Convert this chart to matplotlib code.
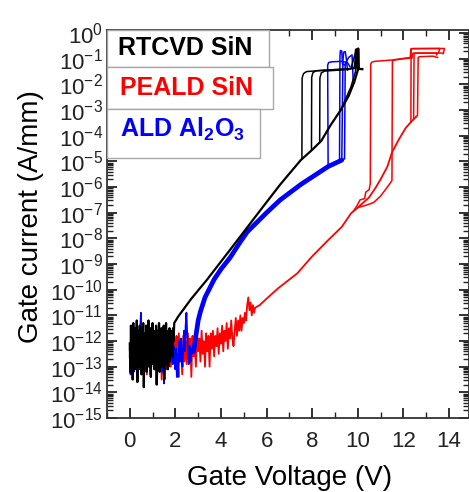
import numpy as np
import matplotlib
matplotlib.use('Agg')
import matplotlib.pyplot as plt
from matplotlib.ticker import LogLocator, MultipleLocator, LogFormatterMathtext, NullFormatter
from matplotlib.patches import Rectangle

plt.rcParams['font.family'] = ['Liberation Sans', 'DejaVu Sans']
plt.rcParams['mathtext.fontset'] = 'custom'
plt.rcParams['mathtext.rm'] = 'Liberation Sans'
plt.rcParams['mathtext.it'] = 'Liberation Sans:italic'
plt.rcParams['mathtext.bf'] = 'Liberation Sans:bold'
plt.rcParams['axes.unicode_minus'] = False

# ---------------- data (log10 of gate current in A/mm vs gate voltage in V) ----------------
legend_labels = ['RTCVD SiN', 'PEALD SiN', r'ALD Al$_\mathbf{2}$O$_\mathbf{3}$']
x_tick_values = [0, 2, 4, 6, 8, 10, 12, 14]

# RTCVD SiN (black)
black_noise_vmax = 1.95
black_noise_logi = [-12.1, -13.2, -11.4, -12.9, -11.8, -13.5, -11.3, -12.6, -12.0, -13.1,
                    -11.5, -12.8, -11.2, -13.6, -12.2, -11.6, -13.0, -11.4, -12.7, -11.9,
                    -13.3, -11.5, -12.4, -11.3, -13.8, -12.1, -11.7, -12.9, -11.4, -13.2,
                    -11.8, -12.5, -11.2, -13.0, -12.0, -11.5, -13.4, -11.7, -12.6, -11.3,
                    -12.9, -11.6, -13.1, -11.9, -12.3, -11.4, -13.7, -12.0, -11.6, -12.8,
                    -11.3, -13.2, -11.8, -12.5, -11.5, -13.0, -11.9, -12.2, -11.4, -13.5,
                    -11.7, -12.7, -11.3, -12.9, -11.8, -13.1, -11.6, -12.4, -11.5, -12.8,
                    -11.7, -12.3, -11.6, -12.6, -11.5, -12.0, -11.3]
black_ramp_v = [2.12, 2.7, 3.37, 4.5, 5.73, 6.6, 7.5, 8.0, 8.4, 8.8, 9.25, 9.6, 9.85, 10.0, 10.02, 10.05, 10.2]
black_ramp_logi = [-11.05, -10.35, -9.63, -8.33, -6.9, -5.9, -4.95, -4.55, -4.2, -3.6, -3.0, -2.45, -1.9, -1.45, -0.6, -1.4, -1.4]
black_bd1_v = [7.55, 7.56, 7.62, 7.75, 8.5, 9.3, 9.85, 9.9, 9.93, 10.0, 10.2]
black_bd1_logi = [-4.9, -1.75, -1.58, -1.5, -1.45, -1.42, -1.38, -1.0, -0.62, -1.35, -1.42]
black_bd2_v = [7.97, 7.98, 8.03, 8.15, 9.0, 9.7, 9.92, 9.95, 10.0]
black_bd2_logi = [-4.55, -1.72, -1.55, -1.47, -1.42, -1.38, -0.7, -1.3, -1.45]
black_bd3_v = [8.33, 8.34, 8.4, 8.55, 9.4, 9.88, 9.9, 9.95]
black_bd3_logi = [-4.25, -1.75, -1.55, -1.48, -1.43, -1.35, -0.65, -1.3]
black_bd4_v = [9.25, 9.45, 9.7, 9.9, 9.95, 10.0]
black_bd4_logi = [-3.0, -2.6, -2.1, -1.5, -0.62, -1.35]

# ALD Al2O3 (blue)
blue_noise_vmax = 2.8
blue_noise_logi = [-12.6, -13.3, -12.1, -12.9, -11.9, -13.2, -12.4, -12.8, -12.0, -13.0,
                   -12.5, -12.2, -13.1, -11.6, -10.9, -12.4, -12.9, -12.1, -13.2, -12.3,
                   -12.7, -11.9, -13.0, -12.2, -12.8, -12.0, -13.3, -12.4, -12.6, -11.8,
                   -12.9, -12.3, -13.1, -12.0, -12.7, -12.2, -13.0, -11.9, -12.5, -12.8,
                   -12.1, -13.2, -12.4, -13.65, -12.2, -12.9, -11.9, -12.6, -12.3, -13.0,
                   -12.0, -12.7, -12.4, -11.8, -12.9, -12.2, -12.6, -13.1, -12.3, -13.4,
                   -12.5, -13.4, -12.0, -12.8, -11.9, -12.6, -13.0, -12.2, -11.6, -12.4,
                   -11.4, -10.9, -11.8, -12.5, -12.9, -12.2, -12.8, -12.3, -12.5, -12.4,
                   -12.3]
blue_ramp_v = [2.8, 2.9, 3.0, 3.1, 3.3, 3.7, 4.0, 4.4, 4.8, 5.15, 6.0, 6.6, 7.5, 8.7, 9.3]
blue_ramp_logi = [-12.4, -11.8, -11.2, -10.85, -10.3, -9.6, -9.2, -8.75, -8.2, -7.75, -7.0, -6.5, -5.9, -5.2, -4.95]
blue_bd1_v = [8.7, 8.68, 8.72, 8.85, 9.3, 9.55, 9.65]
blue_bd1_logi = [-5.2, -1.25, -1.15, -1.12, -1.1, -1.15, -1.3]
blue_bd2_v = [9.2, 9.22, 9.24, 9.3, 9.33, 9.45]
blue_bd2_logi = [-5.0, -0.9, -0.68, -0.7, -1.2, -1.25]
blue_bd3_v = [9.3, 9.35, 9.38, 9.45, 9.5, 9.55]
blue_bd3_logi = [-4.95, -1.05, -0.75, -0.72, -1.0, -1.45]
blue_bd4_v = [9.3, 9.42, 9.45, 9.6, 9.75, 9.8]
blue_bd4_logi = [-4.95, -4.9, -1.2, -0.95, -0.85, -1.85]

# PEALD SiN (red)
red_noise_vmax = 5.5
red_noise_logi = [-12.3, -12.9, -12.0, -13.1, -12.4, -12.7, -11.9, -13.0, -12.2, -12.6,
                  -12.1, -13.2, -12.4, -12.8, -12.0, -13.3, -12.3, -12.7, -11.9, -12.9,
                  -12.2, -13.0, -12.5, -12.1, -13.4, -12.3, -12.8, -12.0, -13.5, -12.4,
                  -12.6, -11.9, -13.1, -12.2, -12.8, -11.8, -13.0, -12.3, -12.6, -11.9,
                  -12.5, -11.8, -13.1, -11.7, -12.7, -12.2, -13.3, -11.8, -12.8, -12.0,
                  -12.9, -11.7, -12.5, -11.9, -13.4, -11.8, -12.6, -12.0, -13.0, -11.7,
                  -12.4, -11.9, -12.8, -11.6, -12.5, -12.0, -13.0, -11.7, -12.4, -11.8,
                  -13.0, -11.7, -12.3, -11.6, -12.6, -11.8, -12.2, -11.5, -12.5, -11.7,
                  -12.1, -11.4, -12.4, -11.6, -12.0, -11.3, -12.3, -11.5, -11.9, -11.2,
                  -11.9, -12.2, -11.6, -11.1, -11.8, -11.2, -11.6, -11.0, -11.6, -11.1,
                  -11.3, -10.9, -11.2, -10.6, -10.3, -10.8, -10.5, -11.0, -10.6, -10.9,
                  -10.7]
red_ramp_v = [5.7, 6.0, 6.5, 7.0, 7.35, 8.0, 8.7, 9.3, 9.7, 10.0, 10.5, 10.8, 11.0, 11.3, 11.5, 11.8, 12.1, 12.35, 12.55]
red_ramp_logi = [-10.6, -10.35, -9.95, -9.6, -9.36, -8.7, -8.07, -7.55, -7.03, -6.8, -6.4, -6.0, -5.7, -5.2, -4.65, -4.15, -3.7, -3.45, -3.27]
red_bd1_v = [9.8, 9.95, 10.1, 10.3, 10.35, 10.5, 10.55, 10.57, 10.62, 10.75, 11.5, 12.3, 12.33, 12.4, 13.6, 13.55]
red_bd1_logi = [-6.95, -6.75, -6.5, -6.45, -6.2, -6.1, -5.85, -1.2, -1.13, -1.1, -1.05, -0.95, -0.62, -0.61, -0.6, -0.75]
red_bd2_v = [10.0, 10.4, 10.7, 11.0, 11.3, 11.5, 11.52, 11.6, 12.0, 12.38, 12.42, 13.5, 13.45]
red_bd2_logi = [-6.8, -6.7, -6.6, -6.35, -6.0, -5.75, -1.08, -1.05, -1.0, -0.97, -0.78, -0.78, -0.85]
red_bd3_v = [12.33, 12.34, 12.4, 13.8, 13.75]
red_bd3_logi = [-3.47, -0.62, -0.6, -0.6, -0.8]
red_bd4_v = [12.45, 12.47, 12.55, 13.7]
red_bd4_logi = [-3.36, -0.8, -0.78, -0.78]
red_bd5_v = [12.55, 12.62, 12.65, 12.7, 13.3, 13.5]
red_bd5_logi = [-3.27, -3.2, -0.95, -0.92, -0.9, -0.95]

# ---------------- figure ----------------
fig = plt.figure(figsize=(4.69, 4.92), dpi=100)
ax = fig.add_axes([0.2281, 0.1504, 0.7729, 0.7886])

def pw(a):
    return np.power(10.0, np.asarray(a, dtype=float))

RED, BLUE, BLACK = '#ff0000', '#0000ff', '#000000'
lw = 1.3

# red
rv = np.concatenate([np.linspace(0, red_noise_vmax, len(red_noise_logi)), red_ramp_v])
ri = np.concatenate([red_noise_logi, red_ramp_logi])
ax.plot(rv, pw(ri), color=RED, lw=lw)
for v, l in [(red_bd1_v, red_bd1_logi), (red_bd2_v, red_bd2_logi), (red_bd3_v, red_bd3_logi),
             (red_bd4_v, red_bd4_logi), (red_bd5_v, red_bd5_logi)]:
    ax.plot(v, pw(l), color=RED, lw=1.1)

# blue
bv = np.linspace(0, blue_noise_vmax, len(blue_noise_logi))
ax.plot(bv, pw(blue_noise_logi), color=BLUE, lw=lw)
ax.plot(blue_ramp_v, pw(blue_ramp_logi), color=BLUE, lw=3.4, solid_capstyle='round')
for v, l in [(blue_bd1_v, blue_bd1_logi), (blue_bd2_v, blue_bd2_logi),
             (blue_bd3_v, blue_bd3_logi), (blue_bd4_v, blue_bd4_logi)]:
    ax.plot(v, pw(l), color=BLUE, lw=1.1)

# black
kv = np.concatenate([np.linspace(0, black_noise_vmax, len(black_noise_logi)), black_ramp_v])
ki = np.concatenate([black_noise_logi, black_ramp_logi])
ax.plot(kv, pw(ki), color=BLACK, lw=1.6)
for v, l in [(black_bd1_v, black_bd1_logi), (black_bd2_v, black_bd2_logi),
             (black_bd3_v, black_bd3_logi), (black_bd4_v, black_bd4_logi)]:
    ax.plot(v, pw(l), color=BLACK, lw=1.1)

ax.set_yscale('log')
ax.set_xlim(-1, 14.9)
ax.set_ylim(1e-15, 10 ** 0.12)

ax.set_xticks(x_tick_values)
ax.xaxis.set_minor_locator(MultipleLocator(1))
ax.yaxis.set_major_locator(LogLocator(base=10, subs=(1.0,), numticks=40))
ax.yaxis.set_minor_locator(LogLocator(base=10, subs=np.arange(2, 10) * 1.0, numticks=40))
ax.yaxis.set_major_formatter(LogFormatterMathtext())
ax.yaxis.set_minor_formatter(NullFormatter())

ax.tick_params(which='both', direction='in', top=True, right=True, colors='#222222')
ax.tick_params(which='major', length=7, width=1.3)
ax.tick_params(which='minor', length=4, width=1.0)
ax.tick_params(axis='x', which='major', labelsize=16, pad=9)
ax.tick_params(axis='y', which='major', labelsize=16, pad=3)
for s in ax.spines.values():
    s.set_linewidth(1.3)
    s.set_color('#333333')

ax.set_xlabel('Gate Voltage (V)', fontsize=20)
ax.set_ylabel('Gate current (A/mm)', fontsize=20)
ax.xaxis.set_label_coords(0.505, -0.122)
ax.yaxis.set_label_coords(-0.175, 0.52)

# legend boxes
boxes = [(0.448, 0.905, 1.0), (0.459, 0.796, 0.905), (0.421, 0.670, 0.796)]
colors = [BLACK, RED, BLUE]
text_pos = [(0.030, 0.954), (0.036, 0.851), (0.036, 0.745)]
for (x1, y0, y1), c, (tx, ty), lab in zip(boxes, colors, text_pos, legend_labels):
    ax.add_patch(Rectangle((0, y0), x1, y1 - y0, transform=ax.transAxes, facecolor='white',
                           edgecolor='#a8a8a8', lw=1.0, zorder=5, clip_on=False))
    ax.text(tx, ty, lab, transform=ax.transAxes, color=c, fontsize=18, fontweight='bold',
            va='center', ha='left', zorder=6)

fig.savefig('out.png', dpi=100)
